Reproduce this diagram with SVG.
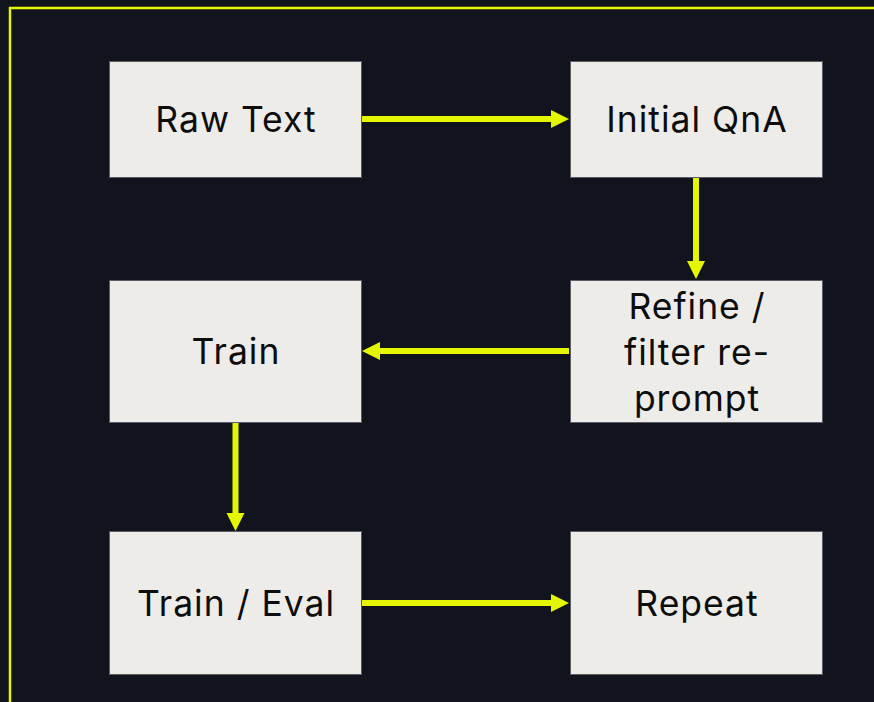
<svg xmlns="http://www.w3.org/2000/svg" width="874" height="702" viewBox="0 0 874 702">
  <defs>
    <style>
      .box { fill: #edece8; stroke: #5c5c66; stroke-width: 1; }
      .label { font-family: Inter, "Noto Sans", "Liberation Sans", sans-serif; font-size: 35.5px; letter-spacing: 1px; fill: #0d0d0d; text-anchor: middle; }
      .edge { stroke: #e4f700; stroke-width: 6; fill: none; }
      .head { fill: #e4f700; }
    </style>
  </defs>

  <!-- background and frame -->
  <rect x="0" y="0" width="874" height="702" fill="#11131d"/>
  <rect x="10" y="8" width="880" height="720" fill="none" stroke="#e4f700" stroke-width="2.5"/>

  <!-- connectors -->
  <g id="connectors">
    <!-- Raw Text -> Initial QnA -->
    <line class="edge" x1="362" y1="119" x2="552" y2="119"/>
    <polygon class="head" points="551,110 569,119 551,128"/>
    <!-- Initial QnA -> Refine -->
    <line class="edge" x1="696" y1="178" x2="696" y2="262"/>
    <polygon class="head" points="687,261 705,261 696,279"/>
    <!-- Refine -> Train -->
    <line class="edge" x1="569" y1="351" x2="379" y2="351"/>
    <polygon class="head" points="380,342 362,351 380,360"/>
    <!-- Train -> Train / Eval -->
    <line class="edge" x1="235.5" y1="423" x2="235.5" y2="514"/>
    <polygon class="head" points="226.5,513 244.5,513 235.5,531"/>
    <!-- Train / Eval -> Repeat -->
    <line class="edge" x1="362" y1="603" x2="552" y2="603"/>
    <polygon class="head" points="551,594 569,603 551,612"/>
  </g>

  <g id="raw-text">
    <rect class="box" x="109.5" y="61.5" width="252" height="116"/>
    <text class="label" x="236" y="132">Raw Text</text>
  </g>
  <g id="initial-qna">
    <rect class="box" x="570.5" y="61.5" width="252" height="116"/>
    <text class="label" x="697" y="132">Initial QnA</text>
  </g>
  <g id="train">
    <rect class="box" x="109.5" y="280.5" width="252" height="142"/>
    <text class="label" x="236" y="364">Train</text>
  </g>
  <g id="refine">
    <rect class="box" x="570.5" y="280.5" width="252" height="142"/>
    <text class="label" x="697" y="319">Refine /</text>
    <text class="label" x="697" y="365">filter re-</text>
    <text class="label" x="697" y="411">prompt</text>
  </g>
  <g id="train-eval">
    <rect class="box" x="109.5" y="531.5" width="252" height="143"/>
    <text class="label" x="236" y="616">Train / Eval</text>
  </g>
  <g id="repeat">
    <rect class="box" x="570.5" y="531.5" width="252" height="143"/>
    <text class="label" x="697" y="616">Repeat</text>
  </g>
</svg>
